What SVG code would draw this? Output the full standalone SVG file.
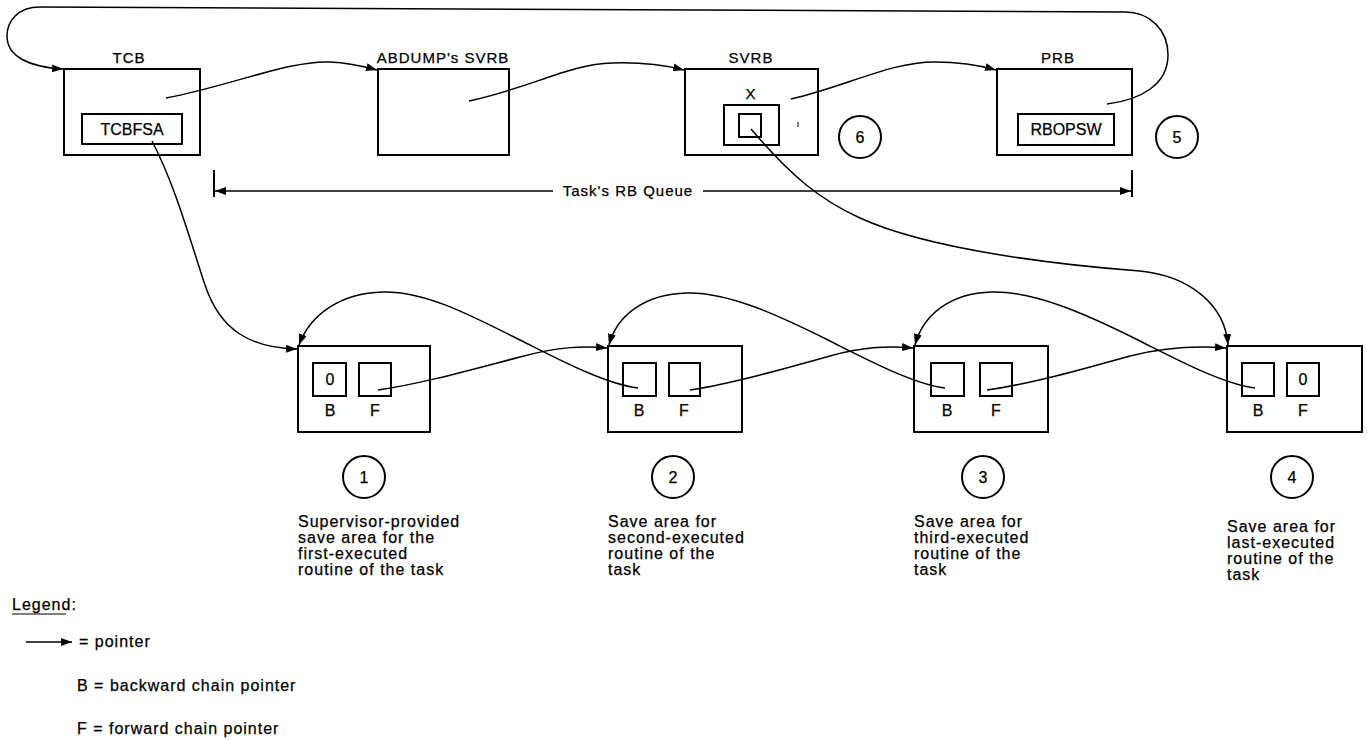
<svg xmlns="http://www.w3.org/2000/svg" width="1367" height="740" viewBox="0 0 1367 740">
<defs>
<marker id="ah" markerUnits="userSpaceOnUse" markerWidth="12" markerHeight="8" refX="11" refY="4" orient="auto">
<path d="M0,0 L11,4 L0,8 z" fill="#000"/>
</marker>
<style>
.box{fill:#fff;stroke:#000;stroke-width:2}
.in{fill:none;stroke:#000;stroke-width:2}
.ar{fill:none;stroke:#000;stroke-width:1.5;marker-end:url(#ah)}
text{font-family:"Liberation Sans",Arial,sans-serif;fill:#000;stroke:#000;stroke-width:0.25}
.lb{font-size:15px;letter-spacing:1px;text-anchor:middle}
.ds{font-size:16px;letter-spacing:1px}
.num{font-size:16px;text-anchor:middle}
</style>
</defs>
<rect width="1367" height="740" fill="#fff"/>

<g id="tcb">
<rect class="box" x="64" y="69" width="136" height="86"/>
<text class="lb" x="129" y="63">TCB</text>
<rect class="in" x="82" y="114" width="100" height="30"/>
<text class="lb" x="132" y="135" style="font-size:16px;letter-spacing:0">TCBFSA</text>
</g>
<g id="abdump">
<rect class="box" x="378" y="69" width="131" height="86"/>
<text class="lb" x="443" y="63">ABDUMP's SVRB</text>
</g>
<g id="svrb">
<rect class="box" x="685" y="69" width="133" height="86"/>
<text class="lb" x="751" y="63">SVRB</text>
<text class="lb" x="751" y="99">X</text>
<rect class="in" x="724" y="105" width="55" height="40"/>
<rect class="in" x="739" y="114" width="22" height="23"/>
<line x1="798" y1="122" x2="798" y2="127" stroke="#000" stroke-width="1"/>
</g>
<g id="prb">
<rect class="box" x="997" y="69" width="135" height="86"/>
<text class="lb" x="1058" y="63">PRB</text>
<rect class="in" x="1018" y="114" width="96" height="31"/>
<text class="lb" x="1066" y="135" style="font-size:16px;letter-spacing:0">RBOPSW</text>
</g>
<g id="c6"><circle cx="860" cy="137" r="21" class="in"/><text class="num" x="860" y="143">6</text></g>
<g id="c5"><circle cx="1177" cy="137" r="21" class="in"/><text class="num" x="1177" y="143">5</text></g>

<g id="queue">
<line x1="214" y1="170" x2="214" y2="197" stroke="#000" stroke-width="2"/>
<line x1="1132" y1="170" x2="1132" y2="197" stroke="#000" stroke-width="2"/>
<line class="ar" x1="553" y1="191" x2="215" y2="191"/>
<line class="ar" x1="703" y1="191" x2="1131" y2="191"/>
<text class="lb" x="628" y="196">Task's RB Queue</text>
</g>

<g id="sa1">
<rect class="box" x="298" y="346" width="132" height="86"/>
<rect class="in" x="313" y="363" width="33" height="33"/>
<rect class="in" x="359" y="363" width="32" height="33"/>
<text class="num" x="330" y="385">0</text>
<text class="num" x="330" y="416">B</text>
<text class="num" x="375" y="416">F</text>
</g>
<g id="sa2">
<rect class="box" x="608" y="346" width="134" height="86"/>
<rect class="in" x="623" y="363" width="33" height="33"/>
<rect class="in" x="669" y="363" width="31" height="33"/>
<text class="num" x="639" y="416">B</text>
<text class="num" x="684" y="416">F</text>
</g>
<g id="sa3">
<rect class="box" x="914" y="346" width="134" height="86"/>
<rect class="in" x="931" y="363" width="33" height="33"/>
<rect class="in" x="980" y="363" width="32" height="33"/>
<text class="num" x="947" y="416">B</text>
<text class="num" x="996" y="416">F</text>
</g>
<g id="sa4">
<rect class="box" x="1227" y="346" width="135" height="86"/>
<rect class="in" x="1242" y="363" width="32" height="33"/>
<rect class="in" x="1287" y="363" width="32" height="33"/>
<text class="num" x="1303" y="385">0</text>
<text class="num" x="1258" y="416">B</text>
<text class="num" x="1303" y="416">F</text>
</g>

<g id="d1">
<circle cx="364" cy="477" r="21" class="in"/><text class="num" x="364" y="483">1</text>
<text class="ds" x="298"><tspan x="298" y="527">Supervisor-provided</tspan><tspan x="298" y="543">save area for the</tspan><tspan x="298" y="559">first-executed</tspan><tspan x="298" y="575">routine of the task</tspan></text>
</g>
<g id="d2">
<circle cx="673" cy="477" r="21" class="in"/><text class="num" x="673" y="483">2</text>
<text class="ds" x="608"><tspan x="608" y="527">Save area for</tspan><tspan x="608" y="543">second-executed</tspan><tspan x="608" y="559">routine of the</tspan><tspan x="608" y="575">task</tspan></text>
</g>
<g id="d3">
<circle cx="983" cy="477" r="21" class="in"/><text class="num" x="983" y="483">3</text>
<text class="ds" x="914"><tspan x="914" y="527">Save area for</tspan><tspan x="914" y="543">third-executed</tspan><tspan x="914" y="559">routine of the</tspan><tspan x="914" y="575">task</tspan></text>
</g>
<g id="d4">
<circle cx="1292" cy="477" r="21" class="in"/><text class="num" x="1292" y="483">4</text>
<text class="ds" x="1227"><tspan x="1227" y="532">Save area for</tspan><tspan x="1227" y="548">last-executed</tspan><tspan x="1227" y="564">routine of the</tspan><tspan x="1227" y="580">task</tspan></text>
</g>

<g id="connectors">
<path class="ar" d="M166,98 C230,86 290,60 330,62 C352,63 366,67 377,70"/>
<path class="ar" d="M469,101 C530,88 570,64 612,63 C645,62 668,66 684,70"/>
<path class="ar" d="M791,99 C850,85 890,62 935,62 C962,62 982,66 996,70"/>
<path class="ar" d="M1107,104 C1140,100 1168,85 1168,55 C1168,30 1150,12 1125,12 L40,7 C17,7 7,22 7,36 C7,56 28,67 63,69"/>
<path class="ar" d="M152,141 C175,185 190,240 205,285 C220,330 250,348 297,349"/>
<path class="ar" d="M751,129 C790,175 820,200 860,218 C930,250 1060,265 1140,271 C1190,276 1225,305 1228,345"/>
<path class="ar" d="M378,390 C420,384 470,370 520,357 C560,346 585,346 607,348"/>
<path class="ar" d="M638,388 C605,384 560,360 520,340 C470,315 425,291 383,292 C340,293 310,315 299,345"/>
<path class="ar" d="M690,390 C730,384 780,370 830,356 C865,346 890,346 913,348"/>
<path class="ar" d="M945,388 C913,384 868,360 828,340 C778,315 728,292 687,293 C645,294 617,315 609,345"/>
<path class="ar" d="M987,390 C1030,384 1080,370 1130,356 C1170,346 1200,346 1226,348"/>
<path class="ar" d="M1255,388 C1223,384 1178,360 1138,340 C1088,315 1035,291 992,292 C950,293 923,315 915,345"/>
</g>

<g id="legend">
<text class="ds" x="12" y="610">Legend:</text>
<line x1="12" y1="614" x2="66" y2="614" stroke="#000" stroke-width="1.2"/>
<line class="ar" x1="26" y1="642" x2="72" y2="642"/>
<text class="ds" x="79" y="647">= pointer</text>
<text class="ds" x="77" y="691">B = backward chain pointer</text>
<text class="ds" x="77" y="734">F = forward chain pointer</text>
</g>
</svg>
